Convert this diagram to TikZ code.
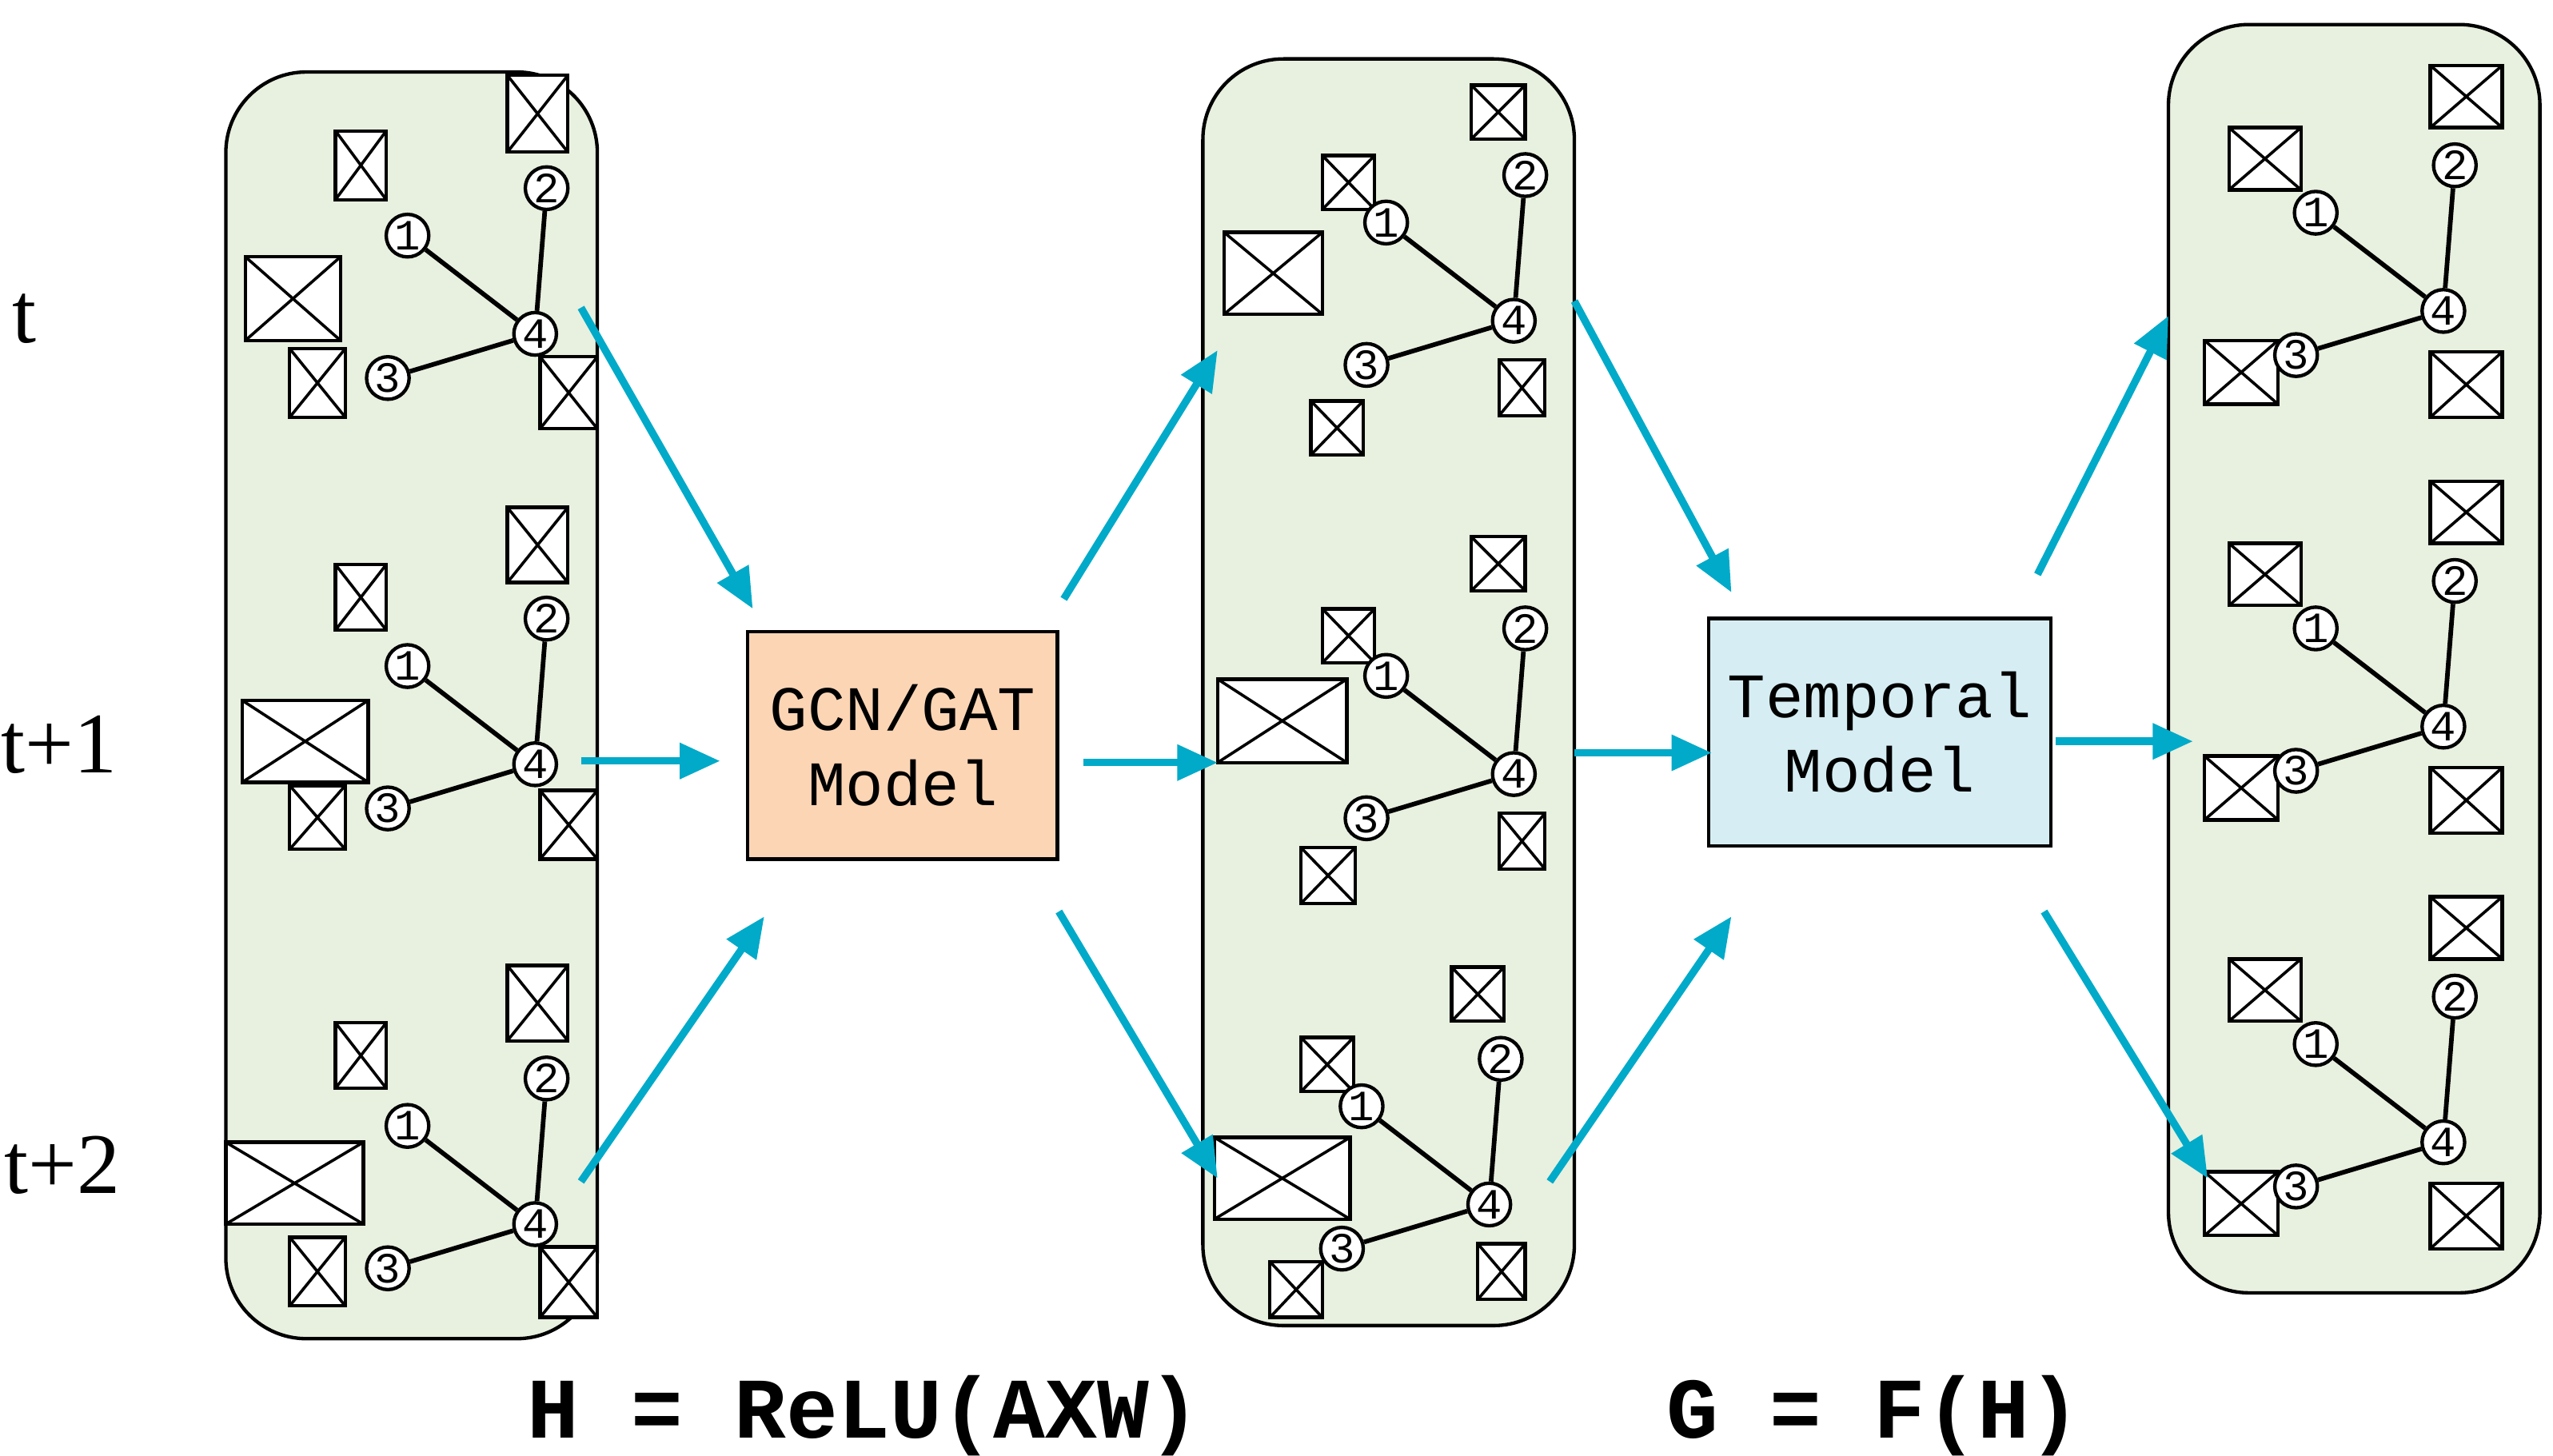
\documentclass[tikz,border=0pt]{standalone}
\usepackage{fontspec}
\setmainfont{Liberation Serif}
\newfontfamily\mono{Liberation Mono}
\usetikzlibrary{arrows.meta}
\definecolor{pan}{RGB}{232,240,223}
\definecolor{arr}{RGB}{0,170,200}
\definecolor{gcn}{RGB}{252,213,181}
\definecolor{tmp}{RGB}{214,238,243}
\tikzset{
 panel/.style={draw=black,fill=pan,rounded corners=14pt,line width=0.6pt},
 vtx/.style={circle,draw,fill=white,inner sep=0pt,minimum size=0.26cm,font=\mono\fontsize{7.5}{8}\selectfont,line width=0.6pt},
 edge/.style={line width=0.8pt},
 flow/.style={draw=arr,line width=1.3pt,-{Triangle[length=7pt,width=6pt]}},
 model/.style={draw,line width=0.6pt,font=\mono\fontsize{11}{13}\selectfont,align=center,minimum width=1.89cm,minimum height=1.39cm},
 lbl/.style={font=\fontsize{15}{16}\selectfont},
 frm/.style={font=\mono\bfseries\fontsize{15}{16}\selectfont}
}
\newcommand\xbx[4]{\draw[fill=white,line width=0.6pt] (#1,#2) rectangle (#3,#4); \draw[line width=0.5pt] (#1,#2)--(#3,#4) (#1,#4)--(#3,#2);}
\newcommand\grp[3]{%
 \node[vtx] (#1d) at (#2,#3) {4};
 \node[vtx] (#1a) at ([shift={(-78,-60)}]#1d) {1};
 \node[vtx] (#1b) at ([shift={(7,-89)}]#1d) {2};
 \node[vtx] (#1c) at ([shift={(-90,27)}]#1d) {3};
 \draw[edge] (#1a)--(#1d) (#1b)--(#1d) (#1c)--(#1d);}
\begin{document}
\begin{tikzpicture}[x=0.01cm,y=-0.01cm]
\useasboundingbox (0,0) rectangle (1560,889.6);
\draw[panel] (138,44) rectangle (365,818);
\draw[panel] (735,36) rectangle (962,810);
\draw[panel] (1325,15) rectangle (1552,790);
% panel 1 boxes
\xbx{205}{80}{236}{122}\xbx{310}{46}{347}{93}\xbx{150}{157}{208}{208}\xbx{177}{213}{211}{255}\xbx{330}{218}{365}{262}
\xbx{205}{345}{236}{385}\xbx{310}{310}{347}{356}\xbx{148}{428}{225}{478}\xbx{177}{480}{211}{519}\xbx{330}{483}{365}{525}
\xbx{205}{625}{236}{665}\xbx{310}{590}{347}{636}\xbx{138}{698}{222}{748}\xbx{177}{756}{211}{798}\xbx{330}{762}{365}{805}
% panel 2 boxes
\xbx{899}{52}{932}{85}\xbx{808}{95}{840}{128}\xbx{748}{142}{808}{192}\xbx{801}{245}{833}{278}\xbx{916}{220}{944}{254}
\xbx{899}{328}{932}{361}\xbx{808}{372}{840}{405}\xbx{744}{415}{823}{466}\xbx{795}{518}{828}{552}\xbx{916}{497}{944}{531}
\xbx{887}{591}{919}{624}\xbx{795}{634}{827}{667}\xbx{742}{695}{825}{745}\xbx{776}{771}{808}{805}\xbx{903}{760}{932}{794}
% panel 3 boxes
\foreach \o in {0,254,508}{
 \xbx{1485}{40+\o}{1529}{78+\o}\xbx{1362}{78+\o}{1406}{116+\o}\xbx{1347}{208+\o}{1392}{247+\o}\xbx{1485}{215+\o}{1529}{255+\o}}
% graphs
\grp{pa}{327}{204}\grp{pb}{327}{467}\grp{pc}{327}{748}
\grp{qa}{925}{196}\grp{qb}{925}{473}\grp{qc}{910}{736}
\grp{ra}{1493}{190}\grp{rb}{1493}{444}\grp{rc}{1493}{698}
% models
\node[model,fill=gcn] (gcn) at (551.5,455.5) {GCN/GAT\\Model};
\node[model,fill=tmp] (tm) at (1148.5,447.5) {Temporal\\Model};
% labels
\node[lbl] (lt) at (15,195) {t};
\node[lbl] (lt1) at (36,455) {t+1};
\node[lbl] (lt2) at (38,712) {t+2};
\node[frm] (f1) at (528,865) {H = ReLU(AXW)};
\node[frm] (f2) at (1145,865) {G = F(H)};
% arrows
\coordinate (a1) at (355,188); \coordinate (b1) at (460,372);
\coordinate (a2) at (355,465); \coordinate (b2) at (440,465);
\coordinate (a3) at (355,722); \coordinate (b3) at (467,560);
\coordinate (a4) at (650,366); \coordinate (b4) at (744,214);
\coordinate (a5) at (662,466); \coordinate (b5) at (744,466);
\coordinate (a6) at (647,557); \coordinate (b6) at (744,720);
\coordinate (a7) at (962,184); \coordinate (b7) at (1058,362);
\coordinate (a8) at (962,460); \coordinate (b8) at (1046,460);
\coordinate (a9) at (947,722); \coordinate (b9) at (1058,560);
\coordinate (a10) at (1245,351); \coordinate (b10) at (1325,193);
\coordinate (a11) at (1256,453); \coordinate (b11) at (1340,453);
\coordinate (a12) at (1249,557); \coordinate (b12) at (1349,720);
\foreach \i in {1,...,12}{\draw[flow] (a\i)--(b\i);}
\end{tikzpicture}
\end{document}
